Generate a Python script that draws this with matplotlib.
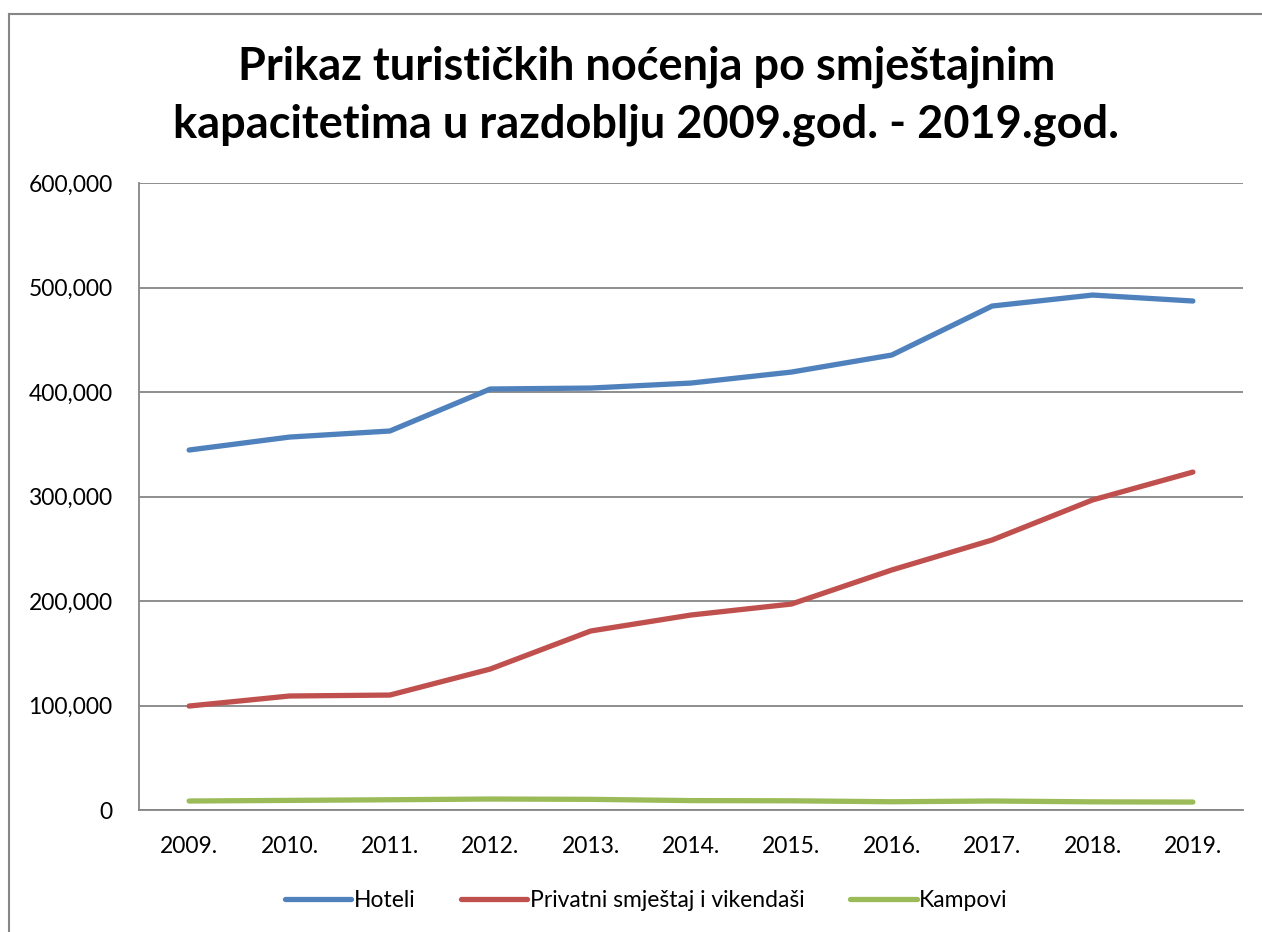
import matplotlib.pyplot as plt
from matplotlib.lines import Line2D
from matplotlib.ticker import FuncFormatter

plt.rcParams["font.family"] = ["Lato", "DejaVu Sans"]

years = ["2009.", "2010.", "2011.", "2012.", "2013.", "2014.",
         "2015.", "2016.", "2017.", "2018.", "2019."]
hoteli = [344500, 356900, 362700, 402900, 403800, 408600,
          419100, 435400, 482300, 492800, 487100]
privatni = [99500, 109100, 110000, 134900, 171300, 186600,
            197100, 229700, 258400, 296700, 323400]
kampovi = [8600, 9200, 9800, 10500, 10200, 9000,
           8800, 7900, 8600, 7800, 7600]

series = [
    ("Hoteli", hoteli, "#4F81BD"),
    ("Privatni smještaj i vikendaši", privatni, "#C0504D"),
    ("Kampovi", kampovi, "#9BBB59"),
]

fig = plt.figure(figsize=(12.62, 9.32), dpi=100)
ax = fig.add_axes([0.1101, 0.1309, 0.8749, 0.6727])

x = range(len(years))
for name, vals, color in series:
    ax.plot(x, vals, color=color, lw=3.8, label=name,
            solid_capstyle="round", solid_joinstyle="round")

ax.set_xlim(-0.5, len(years) - 0.5)
ax.set_ylim(0, 600000)
ax.set_yticks(range(0, 600001, 100000))
ax.yaxis.set_major_formatter(FuncFormatter(lambda v, _: f"{int(v):,}"))
ax.set_xticks(list(x))
ax.set_xticklabels(years)
ax.tick_params(axis="both", length=0, labelsize=16.5)
ax.tick_params(axis="y", pad=19)
ax.tick_params(axis="x", pad=19)

ax.grid(axis="y", color="#868686", lw=1.3)
ax.set_axisbelow(True)
for side in ["top", "right"]:
    ax.spines[side].set_visible(False)
for side in ["left", "bottom"]:
    ax.spines[side].set_color("#868686")
    ax.spines[side].set_linewidth(1.3)

fig.text(0.512, 0.897,
         "Prikaz turističkih noćenja po smještajnim\nkapacitetima u razdoblju 2009.god. - 2019.god.",
         ha="center", va="center", fontsize=32.5, fontweight="bold", linespacing=1.45)

fig.legend(loc="center", bbox_to_anchor=(0.512, 0.034), ncol=3, frameon=False,
           fontsize=16.5, handlelength=2.9, handletextpad=0.1, columnspacing=2.0)

# chart frame (left and top edges visible)
fig.add_artist(Line2D([8.5 / 1262, 8.5 / 1262], [0, 1 - 13.5 / 932],
                      transform=fig.transFigure, color="#868686", lw=1.5))
fig.add_artist(Line2D([8.5 / 1262, 1], [1 - 13.5 / 932, 1 - 13.5 / 932],
                      transform=fig.transFigure, color="#868686", lw=1.5))

fig.savefig("out.png", dpi=100)
